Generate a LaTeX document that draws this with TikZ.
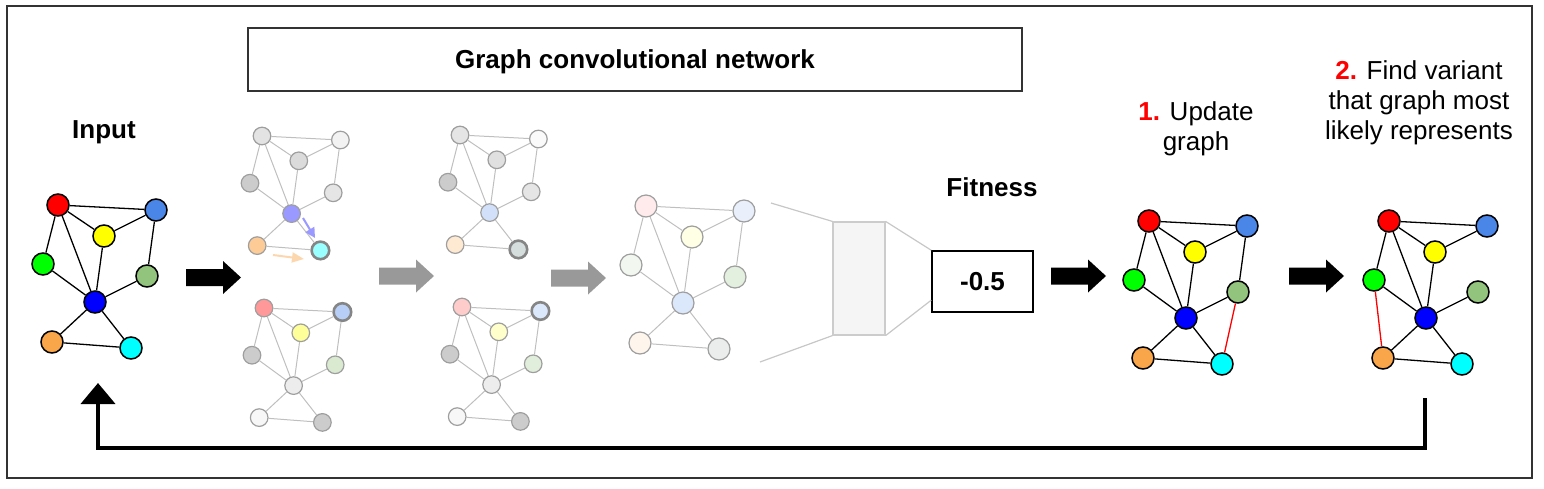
\documentclass[tikz,border=0pt]{standalone}
\usepackage{fontspec}
\setmainfont{Liberation Sans}
\usepackage{tikz}
\usetikzlibrary{arrows.meta}
\definecolor{cR}{HTML}{FF0000}
\definecolor{cB}{HTML}{4A86E8}
\definecolor{cY}{HTML}{FFFF00}
\definecolor{cG}{HTML}{00FF00}
\definecolor{cS}{HTML}{93C47D}
\definecolor{cK}{HTML}{0000FF}
\definecolor{cO}{HTML}{F9A64A}
\definecolor{cC}{HTML}{00FFFF}

\begin{document}
\begin{tikzpicture}[x=0.5pt, y=-0.5pt,
  vtx/.style={circle, draw=black, line width=0.75pt, minimum size=11pt, inner sep=0pt},
  fvtx/.style={circle, draw=black!38, line width=0.6pt, minimum size=11pt, inner sep=0pt},
  thk/.style={draw=black!48, line width=1.3pt},
  edge/.style={line width=0.65pt},
  fedge/.style={black!25, line width=0.5pt},
  newedge/.style={red, line width=0.65pt},
  outer/.style={draw=black!80, line width=1pt},
  fback/.style={line width=2pt, -{Triangle[width=17pt,length=10.5pt]}},
  lbl/.style={font=\fontsize{13}{15}\selectfont\bfseries},
  txt/.style={font=\fontsize{13}{15}\selectfont, align=center}]
\useasboundingbox (0,0) rectangle (1544,488);
\newcommand{\drawNodes}[9]{
  \node[#1, fill=#2] (r) at (58,205) {};
  \node[#1, fill=#3] (b) at (156,210) {};
  \node[#1, fill=#4] (y) at (104,236) {};
  \node[#1, fill=#5] (g) at (43,264) {};
  \node[#1, fill=#6] (s) at (147,276) {};
  \node[#1, fill=#7] (k) at (95,302) {};
  \node[#1, fill=#8] (o) at (52,342) {};
  \node[#1, fill=#9] (c) at (131,348) {};
}
\newcommand{\drawEdges}[1]{
  \foreach \u/\v in {r/b, r/y, r/g, r/k, y/b, y/k, g/k, s/k, k/o, k/c, o/c}
    \draw[#1] (\u) -- (\v);
}
\newcommand{\blockArr}[3]{
  \fill[#3] (#1,#2) ++(0,-8.5) -- ++(37,0) -- ++(0,-8) -- ++(18,16.5)
    -- ++(-18,16.5) -- ++(0,-8) -- ++(-37,0) -- cycle;
}
\coordinate (pA) at (303,218);
\coordinate (pB) at (315,238);
\coordinate (oA) at (273,255);
\coordinate (oB) at (304,259);
\coordinate (fnT) at (771,203);
\coordinate (fnB) at (760,362);
\coordinate (fbS) at (1425,398);
\coordinate (fbE) at (98,383);

% frame + labels
\draw[outer] (7,6) rectangle (1532,478);
\node[lbl, anchor=base] (inLbl) at (104,138) {Input};
\node[lbl, outer, minimum width=387pt, minimum height=31.5pt, text depth=0pt] (gcn) at (635,59.5) {Graph convolutional network};
\node[lbl, anchor=base] (fitLbl) at (992,196) {Fitness};
\node[txt] (upLbl) at (1196,129) {{\color{red}\bfseries 1.} Update\\graph};
\node[txt] (fvLbl) at (1419,103) {{\color{red}\bfseries 2.} Find variant\\that graph most\\likely represents};
%

% input graph
\begin{scope}[name prefix=in-]
  \drawNodes{vtx}{cR}{cB}{cY}{cG}{cS}{cK}{cO}{cC}
  \drawEdges{edge}
  \draw[edge] (b) -- (s);
\end{scope}

% gcn layers
\begin{scope}[shift={(215.6,-28)}, scale=0.8, transform shape, name prefix=g1t-]
  \drawNodes{fvtx}{black!11}{black!5}{black!14}{black!20}{black!10}{blue!40}{cO!58}{cC!40, thk}
  \drawEdges{fedge}
  \draw[fedge] (b) -- (s);
\end{scope}
\begin{scope}[shift={(217.6,144)}, scale=0.8, transform shape, name prefix=g1b-]
  \drawNodes{fvtx}{red!40}{cB!40, thk}{cY!40}{black!20}{cS!35}{black!7}{black!3}{black!20}
  \drawEdges{fedge}
  \draw[fedge] (b) -- (s);
\end{scope}
\begin{scope}[shift={(413.6,-29)}, scale=0.8, transform shape, name prefix=g2t-]
  \drawNodes{fvtx}{black!10}{black!2}{black!12}{black!20}{black!10}{cB!25}{cO!25}{cC!10!gray!30, thk}
  \drawEdges{fedge}
  \draw[fedge] (b) -- (s);
\end{scope}
\begin{scope}[shift={(415.6,143)}, scale=0.8, transform shape, name prefix=g2b-]
  \drawNodes{fvtx}{red!20}{cB!20, thk}{cY!20}{black!20}{cS!28}{black!7}{black!3}{black!20}
  \drawEdges{fedge}
  \draw[fedge] (b) -- (s);
\end{scope}
\begin{scope}[shift={(588,1)}, name prefix=g3-]
  \drawNodes{fvtx}{red!8}{cB!12}{cY!10}{cS!12}{cS!25}{cB!20}{cO!10}{cC!6!black!8}
  \drawEdges{fedge}
  \draw[fedge] (b) -- (s);
\end{scope}
\draw[blue!40, line width=1pt, -{Triangle[width=5pt,length=5pt]}] (pA) -- (pB);
\draw[cO!45, line width=1pt, -{Triangle[width=5pt,length=6pt]}] (oA) -- (oB);

% readout
\node[draw=black!20, fill=black!4, line width=0.6pt, minimum width=26pt, minimum height=56.5pt] (fun) at (859,278.5) {};
\node[lbl, draw, line width=0.75pt, minimum width=50.5pt, minimum height=30.5pt] (fit) at (982.5,281.5) {-0.5};
\draw[black!22, line width=0.6pt] (fnT) -- (fun.north west);
\draw[black!22, line width=0.6pt] (fnB) -- (fun.south west);
\draw[black!22, line width=0.6pt] (fun.north east) -- (fit.north west);
\draw[black!22, line width=0.6pt] (fun.south east) -- (fit.200);

% updated graph + variant
\begin{scope}[shift={(1091,16)}, name prefix=up-]
  \drawNodes{vtx}{cR}{cB}{cY}{cG}{cS}{cK}{cO}{cC}
  \drawEdges{edge}
  \draw[edge] (b) -- (s);
  \draw[newedge] (s) -- (c);
\end{scope}
\begin{scope}[shift={(1331,16)}, name prefix=fv-]
  \drawNodes{vtx}{cR}{cB}{cY}{cG}{cS}{cK}{cO}{cC}
  \drawEdges{edge}
  \draw[newedge] (g) -- (o);
\end{scope}

% arrows
\blockArr{186}{277.5}{black}
\blockArr{379}{276}{black!40}
\blockArr{551}{278}{black!40}
\blockArr{1051}{276}{black}
\blockArr{1289}{276}{black}
\draw[fback] (fbS) -- ++(0,50) -| (fbE);
%
\end{tikzpicture}
\end{document}
